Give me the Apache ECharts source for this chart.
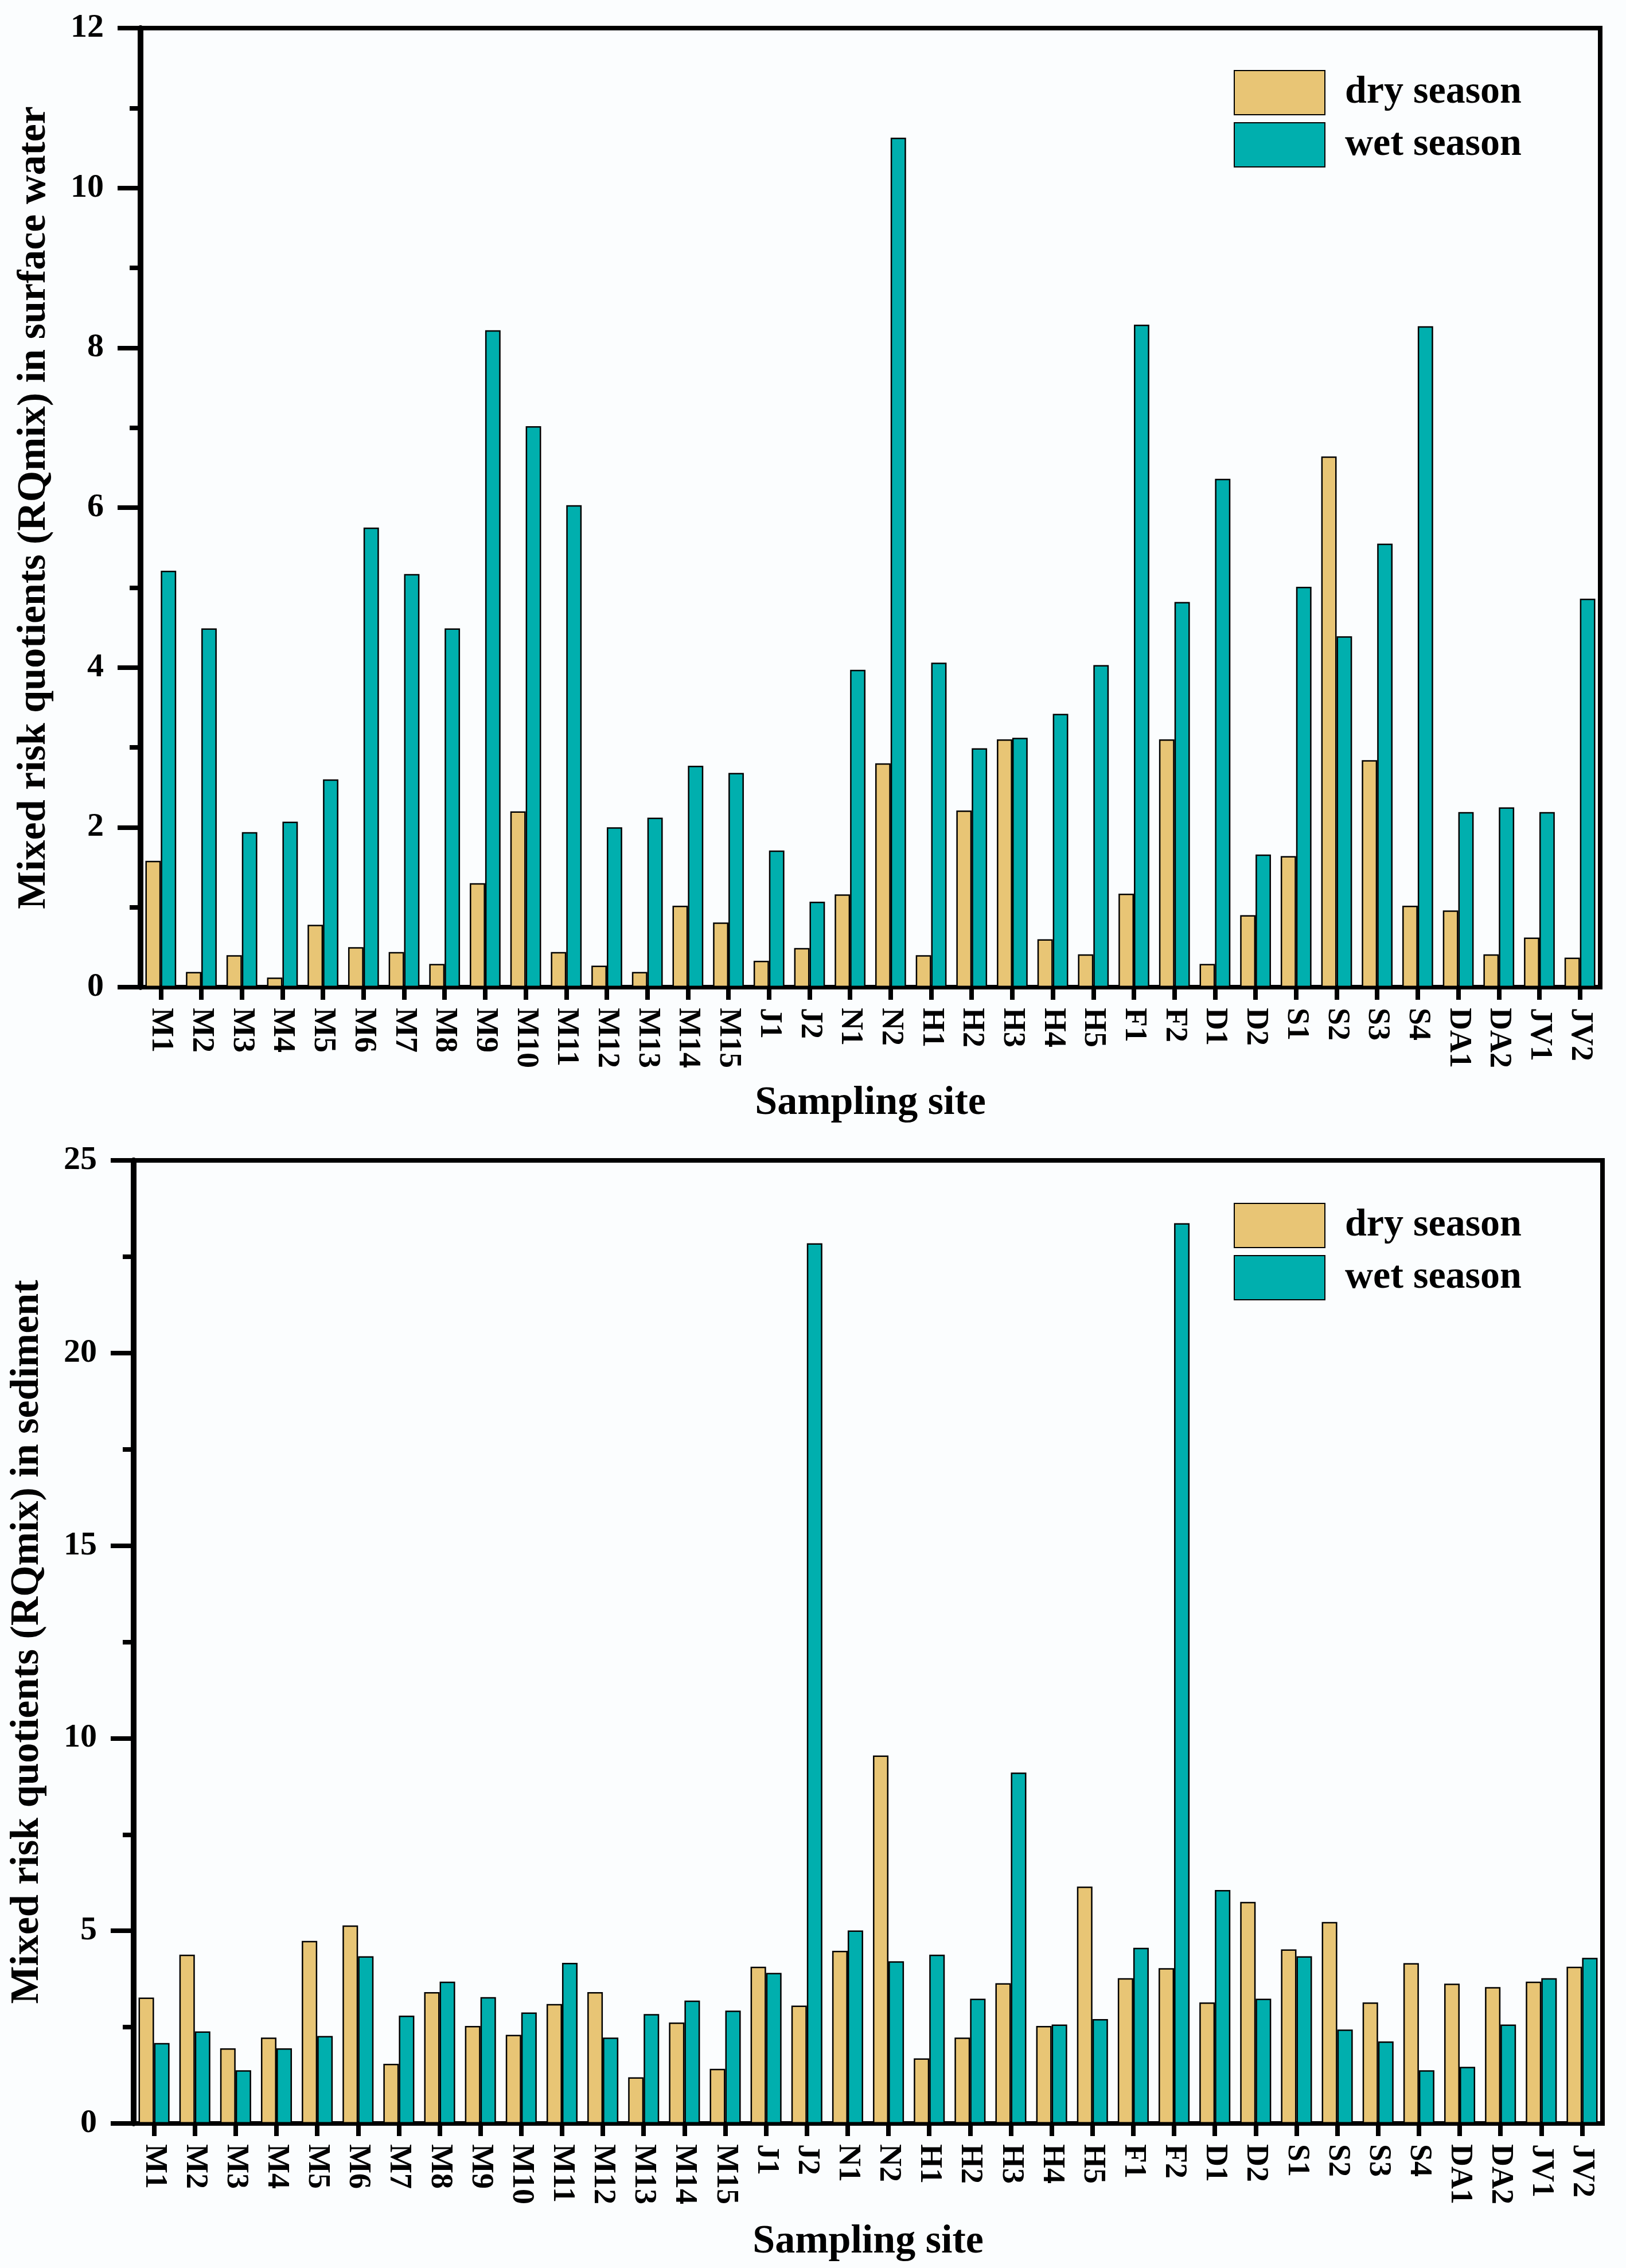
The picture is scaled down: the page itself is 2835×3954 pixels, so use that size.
<!DOCTYPE html>
<html>
<head>
<meta charset="utf-8">
<script src="https://cdn.jsdelivr.net/npm/echarts@6/dist/echarts.min.js"></script>
<style>
html,body{margin:0;padding:0;background:#fbfdfe;}
#chart{width:2835px;height:3954px;}
</style>
</head>
<body>
<div id="chart"></div>
<script>
const sites = ['M1','M2','M3','M4','M5','M6','M7','M8','M9','M10','M11','M12','M13','M14','M15','J1','J2','N1','N2','H1','H2','H3','H4','H5','F1','F2','D1','D2','S1','S2','S3','S4','DA1','DA2','JV1','JV2'];

const waterDry = [1.58,0.19,0.40,0.12,0.78,0.50,0.44,0.29,1.30,2.20,0.44,0.27,0.19,1.02,0.81,0.33,0.49,1.16,2.80,0.40,2.21,3.10,0.60,0.41,1.17,3.10,0.29,0.90,1.64,6.64,2.84,1.02,0.96,0.41,0.62,0.37];
const waterWet = [5.21,4.49,1.94,2.07,2.60,5.75,5.17,4.49,8.22,7.02,6.03,2.00,2.12,2.77,2.68,1.71,1.07,3.97,10.63,4.06,2.99,3.12,3.42,4.03,8.29,4.82,6.36,1.66,5.01,4.39,5.55,8.27,2.19,2.25,2.19,4.86];

const sedDry = [3.27,4.38,1.95,2.23,4.74,5.14,1.55,3.41,2.53,2.30,3.10,3.41,1.20,2.62,1.42,4.07,3.06,4.48,9.55,1.69,2.23,3.64,2.53,6.15,3.77,4.03,3.14,5.75,4.52,5.23,3.14,4.16,3.63,3.54,3.68,4.07];
const sedWet = [2.09,2.39,1.38,1.95,2.27,4.34,2.80,3.68,3.28,2.88,4.17,2.23,2.84,3.19,2.93,3.91,22.85,5.01,4.21,4.38,3.24,9.11,2.57,2.71,4.56,23.37,6.06,3.24,4.34,2.44,2.13,1.38,1.47,2.57,3.77,4.30];

const seriesNames = ['dry season','wet season'];
const waterTicks = {min:0, max:12, interval:2};
const sedTicks = {min:0, max:25, interval:5};

const FONT = '"Liberation Serif", "Times New Roman", serif';
const DRY = '#e8c575';
const WET = '#00afae';

const chart = echarts.init(document.getElementById('chart'), null, {renderer:'canvas'});

function xAxisCfg(gridIndex){
  return {
    type:'category', gridIndex, data:sites,
    name:'Sampling site', nameLocation:'middle', nameGap: gridIndex===0?168:172,
    nameTextStyle:{fontFamily:FONT, fontWeight:'bold', fontSize:70, color:'#000'},
    axisLine:{show:true, lineStyle:{color:'#000', width:8}},
    axisTick:{show:true, alignWithLabel:true, length:22, lineStyle:{color:'#000', width:8}},
    axisLabel:{interval:0, rotate:-90, margin:36, fontFamily:FONT, fontWeight:'bold', fontSize:54, color:'#000'},
    splitLine:{show:false}
  };
}
function yAxisCfg(gridIndex, ticks, name){
  return {
    type:'value', gridIndex, min:ticks.min, max:ticks.max, interval:ticks.interval,
    name, nameLocation:'middle', nameGap:150,
    nameTextStyle:{fontFamily:FONT, fontWeight:'bold', fontSize:70, color:'#000'},
    axisLine:{show:true, lineStyle:{color:'#000', width:10}},
    axisTick:{show:true, length:40, lineStyle:{color:'#000', width:8}},
    minorTick:{show:true, splitNumber:2, length:19, lineStyle:{color:'#000', width:8}},
    axisLabel:{margin:64, fontFamily:FONT, fontWeight:'bold', fontSize:58, color:'#000'},
    splitLine:{show:false}, minorSplitLine:{show:false}
  };
}
function legendCfg(top){
  return {
    orient:'vertical', left:2151, top, padding:0,
    itemWidth:158, itemHeight:77, itemGap:12, icon:'rect',
    data:seriesNames,
    textStyle:{fontFamily:FONT, fontWeight:'bold', fontSize:68, color:'#000', padding:[0,0,0,30]}
  };
}
function barSeries(name, data, idx, color){
  return {
    type:'bar', name, data, xAxisIndex:idx, yAxisIndex:idx,
    barGap:'0%', barCategoryGap:'24%',
    itemStyle:{color, borderColor:'#000', borderWidth:2.5},
    emphasis:{disabled:true}
  };
}

chart.setOption({
  backgroundColor:'#fbfdfe',
  animation:false,
  grid:[
    {left:245, right:45, top:49, height:1672, show:true, borderColor:'#000', borderWidth:8, backgroundColor:'transparent'},
    {left:233, right:41, top:2023, height:1679, show:true, borderColor:'#000', borderWidth:8, backgroundColor:'transparent'}
  ],
  legend:[legendCfg(122), legendCfg(2097)],
  xAxis:[xAxisCfg(0), xAxisCfg(1)],
  yAxis:[
    yAxisCfg(0, waterTicks, 'Mixed risk quotients (RQmix) in surface water'),
    yAxisCfg(1, sedTicks, 'Mixed risk quotients (RQmix) in sediment')
  ],
  series:[
    barSeries(seriesNames[0], waterDry, 0, DRY),
    barSeries(seriesNames[1], waterWet, 0, WET),
    barSeries(seriesNames[0], sedDry, 1, DRY),
    barSeries(seriesNames[1], sedWet, 1, WET)
  ]
});
</script>
</body>
</html>
